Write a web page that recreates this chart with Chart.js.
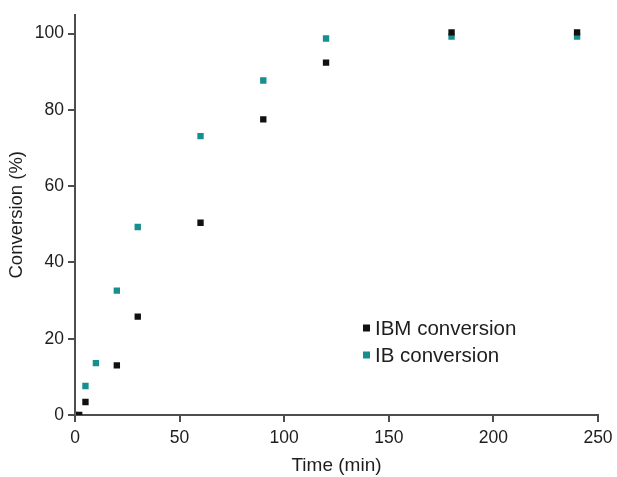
<!DOCTYPE html>
<html>
<head>
<meta charset="utf-8">
<script src="https://cdn.jsdelivr.net/npm/chart.js@4"></script>
<style>
  html, body { margin: 0; padding: 0; background: #fff; }
  #wrap { width: 617px; height: 477px; }
</style>
</head>
<body>
<div id="wrap"><canvas id="chart" width="617" height="477"></canvas></div>
<script>
// data
const ibmTime = [2, 5, 20, 30, 60, 90, 120, 180, 240];
const ibmConv = [0, 3.4, 13, 25.8, 50.4, 77.5, 92.4, 100.3, 100.3];
const ibTime = [0, 5, 10, 20, 30, 60, 90, 120, 180, 240];
const ibConv = [0, 7.6, 13.6, 32.6, 49.3, 73.1, 87.7, 98.7, 99.2, 99.2];
const xTicks = [0, 50, 100, 150, 200, 250];
const yTicks = [0, 20, 40, 60, 80, 100];

const AXIS = '#4d4d4d';
const TEXT = '#1e1e1e';
const FONT = 'Liberation Sans, Arial, sans-serif';

// legend drawn inside the plot
const innerLegend = {
    id: 'innerLegend',
    afterDraw(chart) {
        const ctx = chart.ctx;
        ctx.save();
        ctx.font = '20.5px ' + FONT;
        ctx.textBaseline = 'middle';
        chart.data.datasets.forEach((ds, i) => {
            const y = 328 + i * 27;
            ctx.fillStyle = ds.backgroundColor;
            ctx.fillRect(363, y - 3.5, 7, 7);
            ctx.fillStyle = TEXT;
            ctx.fillText(ds.label, 375, y + 1);
        });
        ctx.restore();
    }
};

const toPoints = (xs, ys) => xs.map((x, i) => ({ x: x, y: ys[i] }));

new Chart(document.getElementById('chart'), {
    type: 'scatter',
    data: {
        datasets: [
            {
                label: 'IBM conversion',
                data: toPoints(ibmTime, ibmConv),
                backgroundColor: '#111111',
                borderColor: '#111111',
                pointStyle: 'rect',
                pointRadius: 4.5,
                borderWidth: 0
            },
            {
                label: 'IB conversion',
                data: toPoints(ibTime, ibConv),
                backgroundColor: '#178f8c',
                borderColor: '#178f8c',
                pointStyle: 'rect',
                pointRadius: 4.5,
                borderWidth: 0
            }
        ]
    },
    options: {
        responsive: false,
        animation: false,
        layout: { padding: { top: 12, right: 19, left: 0, bottom: 0 } },
        plugins: {
            legend: { display: false },
            tooltip: { enabled: false }
        },
        scales: {
            x: {
                type: 'linear',
                min: 0,
                max: 250,
                afterBuildTicks: s => { s.ticks = xTicks.map(v => ({ value: v })); },
                afterFit: s => { s.height = 62; s.paddingLeft = 0; s.paddingRight = 0; },
                border: { display: true, color: AXIS, width: 2 },
                grid: { drawOnChartArea: false, drawTicks: true, tickLength: 7, color: AXIS, lineWidth: 2 },
                ticks: { color: TEXT, font: { size: 17.5, family: FONT }, padding: 6, maxRotation: 0 },
                title: { display: true, text: 'Time (min)', color: TEXT, font: { size: 19, family: FONT }, padding: { top: 4, bottom: 0 } }
            },
            y: {
                min: 0,
                max: 105,
                afterBuildTicks: s => { s.ticks = yTicks.map(v => ({ value: v })); },
                afterFit: s => { s.width = 75; },
                border: { display: true, color: AXIS, width: 2 },
                grid: { drawOnChartArea: false, drawTicks: true, tickLength: 7, color: AXIS, lineWidth: 2 },
                ticks: { color: TEXT, font: { size: 17.5, family: FONT }, padding: 4 },
                title: { display: true, text: 'Conversion (%)', color: TEXT, font: { size: 18.5, family: FONT }, padding: { top: 6, bottom: 0 } }
            }
        }
    },
    plugins: [innerLegend]
});
</script>
</body>
</html>
